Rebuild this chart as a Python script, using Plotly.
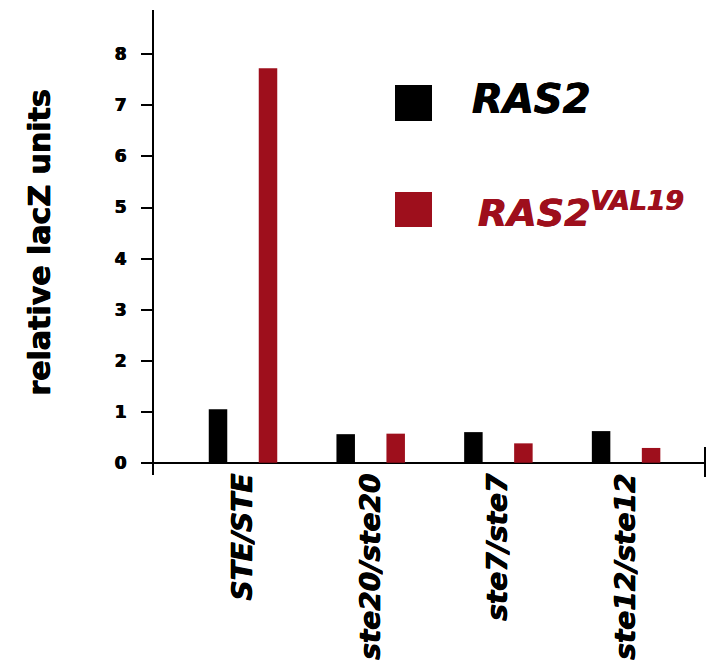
import plotly.graph_objects as go

categories = ["STE/STE", "ste20/ste20", "ste7/ste7", "ste12/ste12"]
ras2 = [1.05, 0.56, 0.60, 0.62]
ras2_val19 = [7.73, 0.57, 0.38, 0.29]
y_ticks = [0, 1, 2, 3, 4, 5, 6, 7, 8]

BLACK = "#000000"
RED = "#9e0f1c"
HEAVY = "0.6px 0px 0px black, -0.4px 0px 0px black"
HEAVY_RED = "0.6px 0px 0px #9e0f1c, -0.4px 0px 0px #9e0f1c"

fig = go.Figure()
fig.add_trace(go.Bar(x=categories, y=ras2, name="RAS2", marker=dict(color=BLACK, line=dict(width=0))))
fig.add_trace(go.Bar(x=categories, y=ras2_val19, name="RAS2VAL19", marker=dict(color=RED, line=dict(width=0))))

W, H = 724, 661
L, R, T, B = 154, 19, 10, 186
pw, ph = W - L - R, H - T - B

def px(xp):
    return (xp - L) / pw

def py(yp):
    return (H - B - yp) / ph

fig.update_layout(
    width=W, height=H,
    margin=dict(l=L, r=R, t=T, b=B, autoexpand=False),
    plot_bgcolor="white", paper_bgcolor="white",
    barmode="group", bargap=0.217, bargroupgap=0.63,
    showlegend=False,
    xaxis=dict(
        type="category", range=[-0.697, 3.618],
        showgrid=False, showline=False, zeroline=False, ticks="",
        tickangle=-90, ticklabelstandoff=-8,
        tickfont=dict(family="DejaVu Sans", size=28, color=BLACK, weight="bold", style="italic",
                      shadow=HEAVY),
        automargin=False,
    ),
    yaxis=dict(
        range=[-0.24, 8.87], tickvals=y_ticks, ticktext=[str(v) for v in y_ticks],
        showgrid=False, showline=True, linecolor=BLACK, linewidth=2,
        zeroline=True, zerolinecolor=BLACK, zerolinewidth=2,
        ticks="outside", ticklen=11, tickwidth=2, tickcolor=BLACK,
        ticklabelstandoff=11,
        tickfont=dict(family="DejaVu Sans", size=17, color=BLACK, weight="bold", shadow=HEAVY),
        title=dict(text="relative lacZ units", standoff=55,
                   font=dict(family="DejaVu Sans", size=30, color=BLACK, weight="bold", shadow=HEAVY)),
        automargin=False,
    ),
)

# right end tick of the baseline
fig.add_shape(type="line", xref="paper", yref="paper", x0=1, x1=1, y0=py(477), y1=py(447),
              line=dict(color=BLACK, width=2))

# legend drawn manually (large squares)
fig.add_shape(type="rect", xref="paper", yref="paper", x0=px(395), x1=px(432), y0=py(121), y1=py(85),
              fillcolor=BLACK, line=dict(width=0))
fig.add_shape(type="rect", xref="paper", yref="paper", x0=px(395), x1=px(432), y0=py(227), y1=py(192),
              fillcolor=RED, line=dict(width=0))
fig.add_annotation(xref="paper", yref="paper", x=px(470), y=py(99), xanchor="left", yanchor="middle",
                   text="RAS2", showarrow=False,
                   font=dict(family="DejaVu Sans", size=40, color=BLACK, weight="bold", style="italic",
                             shadow=HEAVY))
fig.add_annotation(xref="paper", yref="paper", x=px(476), y=py(210), xanchor="left", yanchor="middle",
                   text="RAS2<sup>VAL19</sup>", showarrow=False,
                   font=dict(family="DejaVu Sans", size=38, color=RED, weight="bold", style="italic",
                             shadow=HEAVY_RED))

fig.write_html("out.html")
